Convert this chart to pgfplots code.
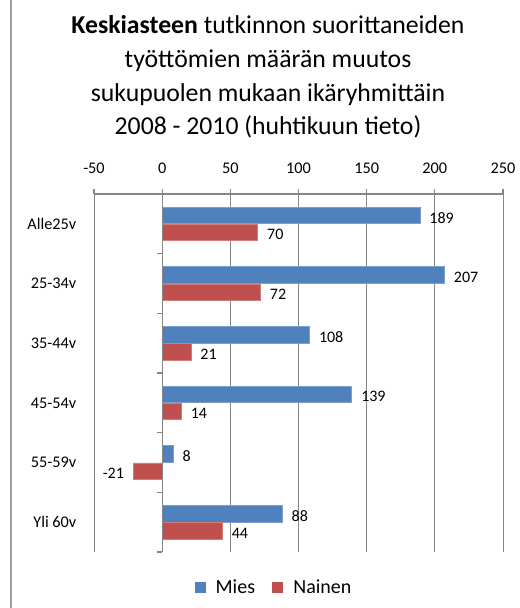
\documentclass[border=0pt]{standalone}
\usepackage{pgfplots}
\pgfplotsset{compat=1.18}
\usepackage{fontspec}
\setmainfont{Carlito}
\definecolor{mies}{RGB}{79,129,189}
\definecolor{nainen}{RGB}{192,80,77}
\definecolor{gridc}{RGB}{134,134,134}
\begin{document}
\begin{tikzpicture}[x=0.75pt,y=0.75pt]
\useasboundingbox (0,0) rectangle (520,608);
\draw[gridc!80, line width=0.8pt] (11,0) -- (11,608);
\node[align=center, font=\fontsize{19.3}{25.3}\selectfont] at (268,531) {\textbf{Keskiasteen} tutkinnon suorittaneiden\\ työttömien määrän muutos\\ sukupuolen mukaan ikäryhmittäin\\ 2008 - 2010 (huhtikuun tieto)};
\begin{axis}[
  at={(70.5pt,42pt)}, anchor=south west,
  scale only axis, width=306.75pt, height=268.5pt,
  xmin=-50, xmax=250, ymin=-0.5, ymax=5.5,
  axis x line*=top,
  y axis line style={draw=none},
  x axis line style={gridc, line width=0.8pt},
  xtick={-50,0,...,250},
  ytick={0,...,5},
  yticklabels={Yli 60v,55-59v,45-54v,35-44v,25-34v,Alle25v},
  ytick style={draw=none},
  xtick style={gridc, line width=0.8pt},
  tick align=outside, major tick length=3.75pt,
  xmajorgrids, major grid style={gridc, line width=0.6pt},
  /pgf/number format/assume math mode=true,
  ticklabel style={font=\fontsize{12.2}{14}\selectfont},
  xticklabel style={yshift=8pt},
  yticklabel style={xshift=-6pt},
  nodes near coords, point meta=x,
  every node near coord/.append style={font=\fontsize{12}{14}\selectfont, black, inner xsep=7pt},
  legend style={at={(0.441,-0.1)}, anchor=center, draw=none, legend columns=2, font=\fontsize{15}{17}\selectfont, /tikz/every even column/.append style={column sep=11pt}},
  legend image code/.code={\fill[#1, draw=none] (0pt,-4.1pt) rectangle (8.2pt,4.1pt); \path (13.5pt,0pt);},
]
\addplot[xbar, bar width=12.4pt, bar shift=6.4pt, fill=mies, draw=mies!75!white, line width=0.4pt, every node near coord/.append style={yshift=4.5pt}] coordinates {(189,5) (207,4) (108,3) (139,2) (8,1) (88,0)};
\addplot[xbar, bar width=12.4pt, bar shift=-6.4pt, fill=nainen, draw=nainen!75!white, line width=0.4pt, every node near coord/.append style={yshift=-8.2pt}] coordinates {(70,5) (72,4) (21,3) (14,2) (-21,1) (44,0)};
\legend{Mies,Nainen}
\draw[gridc, line width=0.8pt] (axis cs:0,-0.5) -- (axis cs:0,5.5);
\pgfplotsinvokeforeach{-0.5,0.5,1.5,2.5,3.5,4.5}{\draw[gridc, line width=0.8pt] ([xshift=-3.75pt]axis cs:0,#1) -- (axis cs:0,#1);}
\end{axis}
\end{tikzpicture}
\end{document}
